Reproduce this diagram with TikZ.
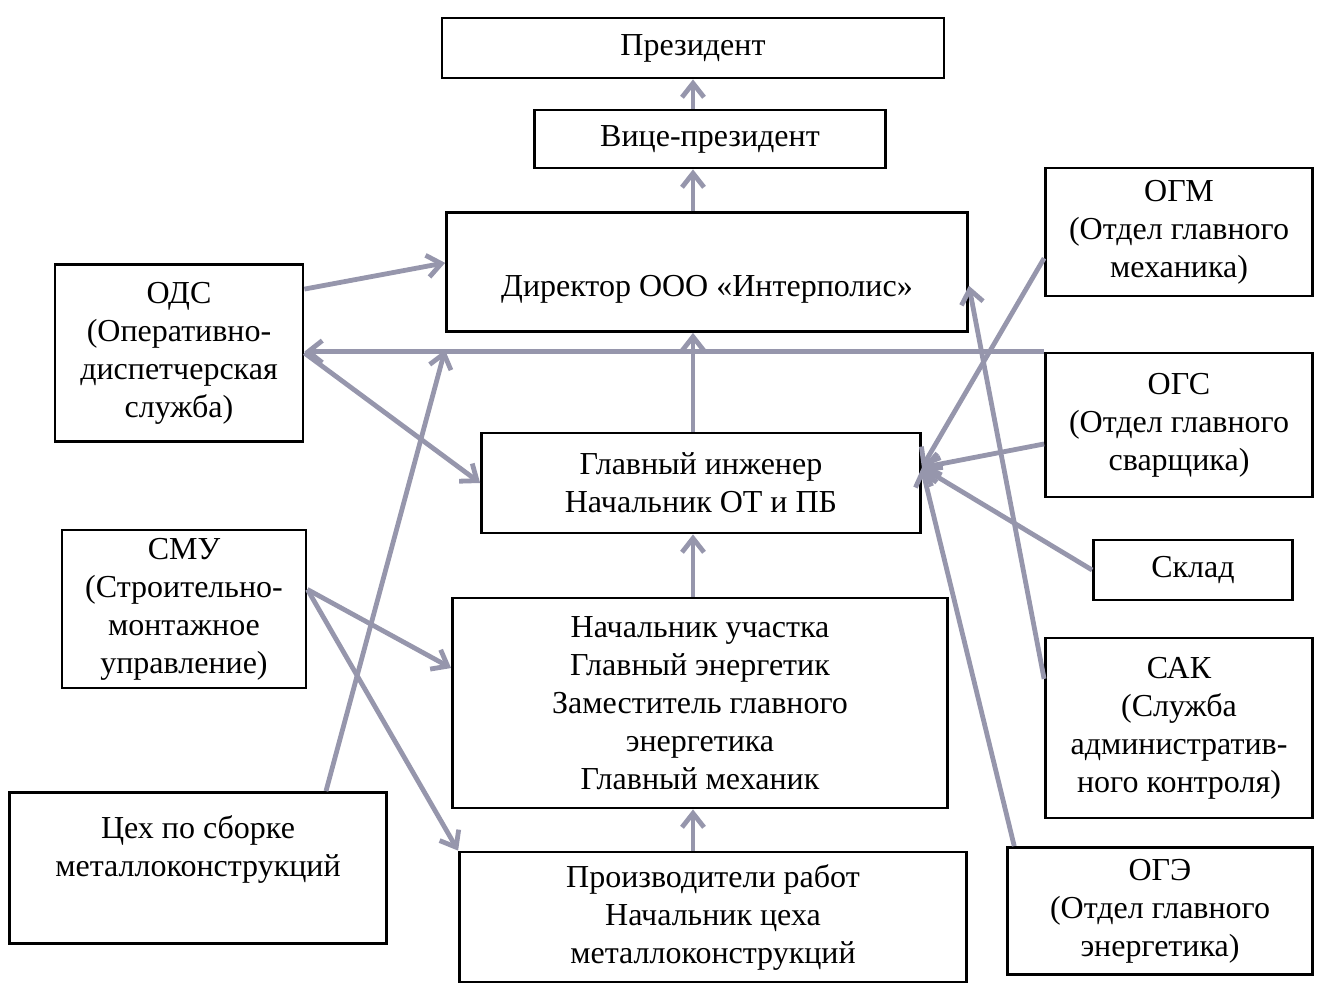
\documentclass[tikz,border=0pt]{standalone}
\usepackage{fontspec}
\setmainfont{Liberation Serif}
\usepackage{xcolor}
\usepackage{tikz}
\usetikzlibrary{arrows.meta}
\definecolor{linkgray}{RGB}{150,150,172}

\begin{document}
\begin{tikzpicture}[x=0.5pt, y=-0.5pt,
    box/.style={draw, line width=1.4pt, inner sep=0pt, align=center,
      font=\fontsize{16}{19}\selectfont},
    link/.style={linkgray, line width=2.4pt, -{Straight Barb[length=7pt,width=11pt]}}]
  \useasboundingbox (0,0) rectangle (1338,983);
  % Central column
  \node[box, minimum width=251pt, minimum height=30pt] (pres) at (693,48) {Президент};
  \node[box, minimum width=175.5pt, minimum height=29pt] (vp) at (710,139) {Вице-президент};
  \node[box, minimum width=260.5pt, minimum height=59.5pt, text height=25pt, text depth=0pt] (dir) at (707,272) {Директор ООО «Интерполис»};
  \node[box, minimum width=219.5pt, minimum height=50pt] (ce) at (701,483) {Главный инженер\\Начальник ОТ и ПБ};
  \node[box, minimum width=247.5pt, minimum height=105pt] (nu) at (700,703) {Начальник участка\\Главный энергетик\\Заместитель главного\\энергетика\\Главный механик};
  \node[box, minimum width=253.5pt, minimum height=65pt] (proizv) at (713,917) {Производители работ\\Начальник цеха\\металлоконструкций};
  % Left column
  \node[box, minimum width=124pt, minimum height=88.5pt] (ods) at (179,353) {ОДС\\(Оперативно-\\диспетчерская\\служба)};
  \node[box, minimum width=122pt, minimum height=79pt] (smu) at (184,609) {СМУ\\(Строительно-\\монтажное\\управление)};
  \node[box, minimum width=188.5pt, minimum height=75.5pt] (ceh) at (198,868) {Цех по сборке\\металлоконструкций\\[3pt]\mbox{}};
  % Right column
  \node[box, minimum width=133.5pt, minimum height=64pt] (ogm) at (1179,232) {ОГМ\\(Отдел главного\\механика)};
  \node[box, minimum width=133.5pt, minimum height=72pt] (ogs) at (1179,425) {ОГС\\(Отдел главного\\сварщика)};
  \node[box, minimum width=99.5pt, minimum height=30pt] (sklad) at (1193,570) {Склад};
  \node[box, minimum width=133.5pt, minimum height=90pt] (sak) at (1179,728) {САК\\(Служба\\административ-\\ного контроля)};
  \node[box, minimum width=152.5pt, minimum height=63.5pt] (oge) at (1160,911) {ОГЭ\\(Отдел главного\\энергетика)};
  % Vertical chain
  \draw[link] (vp.north -| pres.south) -- (pres.south);
  \draw[link] (dir.north -| pres.south) -- (vp.south -| pres.south);
  \draw[link] (ce.north -| pres.south) -- (dir.south -| pres.south);
  \draw[link] (nu.north -| pres.south) -- (ce.south -| pres.south);
  \draw[link] (proizv.north -| pres.south) -- (nu.south -| pres.south);
  % Left links
  \draw[link] (ods.27) -- (dir.178);
  \draw[link] (ogs.north west) -- (ogs.north west -| ods.east);
  \draw[link] (ods.east) -- (ce.west);
  \coordinate (odsjoin) at (445,350);
  \draw[link] (ceh.31) -- (odsjoin);
  \draw[link] (smu.9) -- (nu.172);
  \draw[link] (smu.9) -- (proizv.north west);
  % Right links
  \draw[link] (sak.160) -- (dir.-3);
  \draw[link] (ogm.191) -- (ce.4);
  \draw[link] (ogs.188) -- (ce.4);
  \draw[link] (sklad.west) -- (ce.4);
  \draw[link] (oge.156) -- (ce.4);
\end{tikzpicture}
\end{document}
